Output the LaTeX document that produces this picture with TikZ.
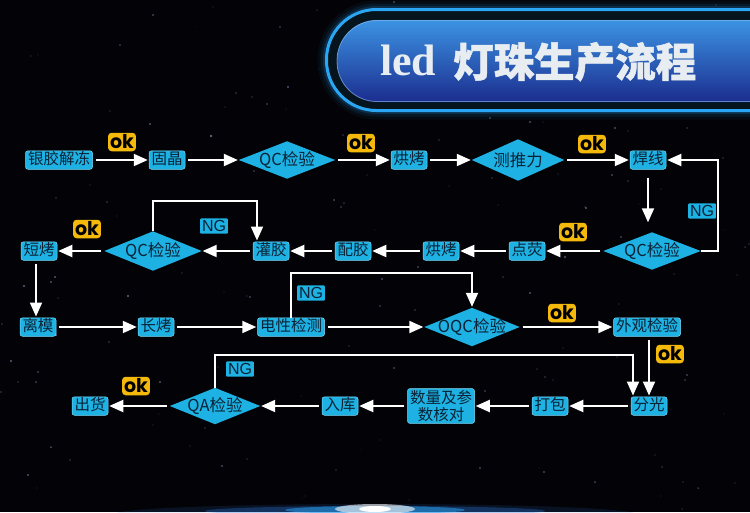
\documentclass[tikz,border=0pt]{standalone}
\usepackage{fontspec}
\setmainfont{Liberation Sans}
\newfontfamily\cjk{Noto Sans CJK SC}
\newfontfamily\cjkheavy{Noto Sans CJK SC}[FakeBold=1.2]
\newfontfamily\okf{Poppins}
\newfontfamily\serf{Liberation Serif}
\usetikzlibrary{arrows.meta,calc}
\pgfdeclarelayer{back}
\pgfsetlayers{back,main}
\definecolor{bgc}{HTML}{030307}
\definecolor{boxc}{HTML}{1DB2E3}
\definecolor{boxl}{HTML}{7FDCF7}
\definecolor{txtc}{HTML}{0C2236}
\definecolor{okc}{HTML}{F4B90A}
\definecolor{ringc}{HTML}{2AA6F5}
\definecolor{pilltop}{HTML}{3C93E3}
\definecolor{pillmid}{HTML}{2060C8}
\definecolor{pillbot}{HTML}{1B2D8E}
\definecolor{titc}{HTML}{E8EDF2}
\definecolor{glowc}{HTML}{2F7FE8}
\begin{document}
\begin{tikzpicture}[x=1pt,y=-1pt,
  boxbase/.style={draw=boxl, line width=0.5pt, fill=boxc, rounded corners=2.5pt,
    inner xsep=2.5pt, inner ysep=1.5pt, text=txtc,
    font=\cjk\fontsize{15.5}{17}\selectfont},
  box/.style={boxbase, text height=12pt, text depth=3.5pt},
  dia/.style={inner sep=0pt, text=txtc, font=\cjk\fontsize{16.5}{18}\selectfont},
  okbox/.style={fill=okc, rounded corners=3.5pt, text=black,
    font=\okf\bfseries\fontsize{19}{19}\selectfont,
    inner xsep=2pt, inner ysep=2.5pt, text height=13.5pt, text depth=0pt},
  ngbox/.style={fill=boxc, rounded corners=1pt, text=txtc,
    font=\fontsize{16}{16}\selectfont,
    inner xsep=1.8pt, inner ysep=1.8pt, text height=11.5pt, text depth=0.3pt},
  arr/.style={draw=white, line width=2pt, -{Triangle[length=14pt,width=12pt]},
    shorten <=3pt, shorten >=1pt},
  lp/.style={draw=white, line width=2pt, -{Triangle[length=14pt,width=12pt]},
    shorten >=1pt}
]
\useasboundingbox (0,0) rectangle (750,512);
\begin{pgfonlayer}{back}
\begin{scope}
\clip (0,0) rectangle (750,512);
\fill[bgc] (0,0) rectangle (750,512);
% stars
\pgfmathsetseed{42}
\foreach \i in {1,...,170}{
  \pgfmathsetmacro{\sx}{random(0,750)}
  \pgfmathsetmacro{\sy}{random(0,512)}
  \pgfmathsetmacro{\so}{0.15+0.55*rnd}
  \pgfmathsetmacro{\sr}{0.35+0.75*rnd}
  \fill[white!70!blue!90!white, opacity=\so] (\sx,\sy) circle [radius=\sr];
}
% horizon glow
\fill[glowc, opacity=0.12] (375,514) ellipse [x radius=260, y radius=10];
\fill[glowc, opacity=0.3] (375,511) ellipse [x radius=170, y radius=5];
\fill[ringc, opacity=0.5] (375,510) ellipse [x radius=90, y radius=4];
\fill[white, opacity=0.6] (375,509) ellipse [x radius=40, y radius=5];
\fill[white] (375,509) ellipse [x radius=16, y radius=3];
% title banner
\foreach \w/\o in {18/0.05,12/0.09,7/0.16}
  \draw[ringc, line width=\w pt, opacity=\o, rounded corners=50pt] (326.5,9.5) rectangle (830,110.5);
\fill[fill=black!80!ringc!60!black, rounded corners=50pt] (326.5,9.5) rectangle (830,110.5);
\draw[ringc, line width=3pt, rounded corners=50pt] (326.5,9.5) rectangle (830,110.5);
\shade[top color=pilltop, middle color=pillmid, bottom color=pillbot, rounded corners=40pt] (337,20) rectangle (830,102);
\draw[pilltop!60!white, line width=0.8pt, opacity=0.6, rounded corners=40pt] (337,20.5) rectangle (830,101.5);
\end{scope}
\end{pgfonlayer}

% title text
\node[anchor=base west, inner sep=0pt, text=titc, font=\serf\bfseries\fontsize{44}{44}\selectfont] (t1) at (380,75) {led};
\node[anchor=base west, inner sep=0pt, text=titc, font=\cjkheavy\bfseries\fontsize{40.5}{41}\selectfont] (t2) at (453,77) {灯珠生产流程};

% row 1
\node[box] (a1) at (59,160) {银胶解冻};
\node[box] (a2) at (167,160) {固晶};
\node[dia, minimum width=96pt, minimum height=37pt] (d1) at (287,160) {QC检验};
\node[box] (a3) at (409,160) {烘烤};
\node[dia, minimum width=92pt, minimum height=41pt] (d2) at (518,160) {测推力};
\node[box] (a4) at (648,160) {焊线};
% row 2
\node[dia, minimum width=97pt, minimum height=37pt] (d3) at (652,251) {QC检验};
\node[box] (a5) at (527,251) {点荧};
\node[box] (a6) at (441,251) {烘烤};
\node[box] (a7) at (353,251) {配胶};
\node[box] (a8) at (271,251) {灌胶};
\node[dia, minimum width=97pt, minimum height=39pt] (d4) at (153,251) {QC检验};
\node[box] (a9) at (39,251) {短烤};
% row 3
\node[box] (a10) at (38,327) {离模};
\node[box] (a11) at (156,327) {长烤};
\node[box] (a12) at (291,327) {电性检测};
\node[dia, minimum width=95pt, minimum height=38pt] (d5) at (472,327) {OQC检验};
\node[box] (a13) at (647,327) {外观检验};
% row 4
\node[box] (a14) at (649,406) {分光};
\node[box] (a15) at (550,406) {打包};
\node[boxbase, align=center, inner ysep=2pt, font=\cjk\fontsize{15.5}{16.5}\selectfont] (a16) at (441,406) {数量及参\\数核对};
\node[box] (a17) at (340,406) {入库};
\node[dia, minimum width=90pt, minimum height=36pt] (d6) at (215,406) {QA检验};
\node[box] (a18) at (90,406) {出货};

% diamonds
\begin{pgfonlayer}{back}
\foreach \d in {d1,d2,d3,d4,d5,d6}
  \fill[boxc] (\d.west) -- (\d.north) -- (\d.east) -- (\d.south) -- cycle;
\end{pgfonlayer}

% ok labels
\node[okbox] (k1) at (122,142) {ok};
\node[okbox] (k2) at (361,143) {ok};
\node[okbox] (k3) at (592,144) {ok};
\node[okbox] (k4) at (573,232) {ok};
\node[okbox] (k5) at (87,229) {ok};
\node[okbox] (k6) at (562,313) {ok};
\node[okbox] (k7) at (670,354) {ok};
\node[okbox] (k8) at (136,386) {ok};
% NG labels
\node[ngbox] (n1) at (702,211) {NG};
\node[ngbox] (n2) at (214,226) {NG};
\node[ngbox] (n3) at (311,293) {NG};
\node[ngbox] (n4) at (240,369) {NG};

% loop corners
\coordinate (c1) at (718,205);
\coordinate (c2) at (257,201);
\coordinate (c3) at (380,273);
\coordinate (c4) at (633,355);

% connectors
\draw[arr] (a1) -- (a2);
\draw[arr] (a2) -- (d1);
\draw[arr] (d1) -- (a3);
\draw[arr] (a3) -- (d2);
\draw[arr] (d2) -- (a4);
\draw[arr, shorten <=8pt, shorten >=10pt] (a4.south) -- (a4.south |- d3.north);
\draw[lp] (d3.east) -| (c1) |- (a4.east);
\draw[arr] (d3) -- (a5);
\draw[arr] (a5) -- (a6);
\draw[arr] (a6) -- (a7);
\draw[arr] (a7) -- (a8);
\draw[arr] (a8) -- (d4);
\draw[lp] (d4.north) |- (c2) -- (c2 |- a8.north);
\draw[arr] (d4) -- (a9);
\draw[arr, shorten <=3pt] (a9.south -| 36,0) -- (a10.north -| 36,0);
\draw[arr] (a10) -- (a11);
\draw[arr] (a11) -- (a12);
\draw[arr] (a12) -- (d5);
\draw[lp] (a12.north) |- (c3) -| (d5.north);
\draw[arr] (d5) -- (a13);
\draw[arr] (a13.south -| a14.north) -- (a14.north);
\draw[lp] (d6.north) |- (c4) -- (c4 |- a14.north);
\draw[arr] (a14) -- (a15);
\draw[arr] (a15) -- (a16);
\draw[arr] (a16) -- (a17);
\draw[arr] (a17) -- (d6);
\draw[arr] (d6) -- (a18);
\end{tikzpicture}
\end{document}
